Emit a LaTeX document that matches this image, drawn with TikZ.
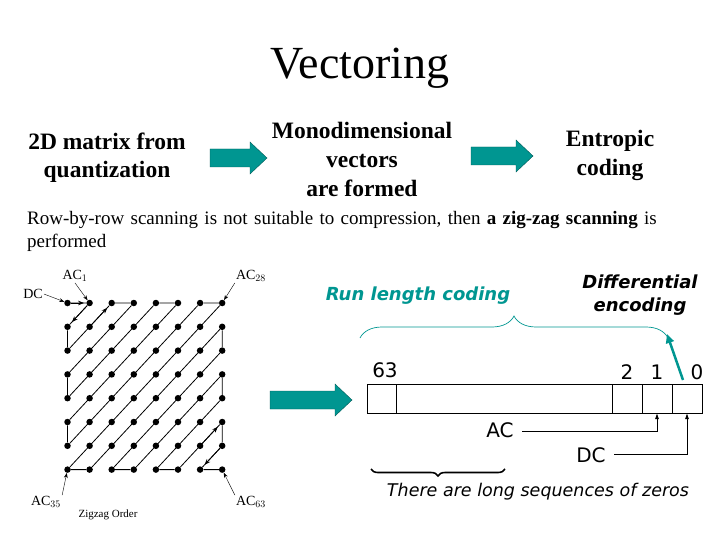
\documentclass[tikz,border=0pt]{standalone}
\usepackage{fontspec}
\setmainfont{Liberation Serif}
\newfontfamily\pfont{DejaVu Sans}
\newfontfamily\lfont{DejaVu Sans}
\usetikzlibrary{decorations.pathreplacing,arrows.meta,calc}
\definecolor{tealc}{RGB}{0,150,145}
\newcommand{\blockarr}[4]{% name, x1, x2, y
  \fill[tealc,draw=tealc!60!black] (#2,#4-9) -- (#3-17,#4-9) -- (#3-17,#4-16) -- (#3,#4) -- (#3-17,#4+16) -- (#3-17,#4+9) -- (#2,#4+9) -- cycle;
  \coordinate (#1) at ({(#2+#3)/2},#4);}
\begin{document}
\begin{tikzpicture}[x=1pt,y=-1pt,
  dot/.style={circle,fill=black,inner sep=0pt,minimum size=6.5pt},
  zz/.style={line width=0.8pt},
  lab/.style={font=\fontsize{14}{14}\selectfont,inner sep=1pt},
  cell/.style={draw,line width=0.6pt},
  conn/.style={line width=0.8pt,-{Latex[length=6pt,width=4pt]}}]
\useasboundingbox (0,0) rectangle (720,540);
\node (title) at (360,68) {\fontsize{46}{46}\selectfont Vectoring};
\node[align=center,font=\bfseries\fontsize{23.5}{28}\selectfont] (t1) at (107,158) {2D matrix from\\quantization};
\node[align=center,font=\bfseries\fontsize{23.5}{29}\selectfont] (t2) at (362,159) {Monodimensional\\vectors\\are formed};
\node[align=center,font=\bfseries\fontsize{23.5}{29}\selectfont] (t3) at (610,155) {Entropic\\coding};
\blockarr{a1}{210}{267}{158}
\blockarr{a2}{471}{533}{156}
\node[anchor=north west,font=\fontsize{19}{23}\selectfont,align=left,text width=680pt,inner sep=0pt] (body) at (27,211) {Row-by-row scanning is not suitable to compression, then \textbf{a zig-zag scanning} is \mbox{performed}};
% zigzag grid
\foreach \i in {0,...,7}{\foreach \j in {0,...,7}{
  \node[dot] (g\i\j) at ({67.5+22.1*\i},{303+23.8*\j}) {};}}
\draw[zz] (g00)--(g10)--(g01)--(g02)--(g20)--(g30)--(g03)--(g04)--(g40)--(g50)--(g05)--(g06)--(g60)--(g70)--(g07)--(g17)--(g71)--(g72)--(g27)--(g37)--(g73)--(g74)--(g47)--(g57)--(g75)--(g76)--(g67)--(g77);
\draw[zz,-{Stealth[length=6pt]}] (g00)--($(g00)!0.75!(g10)$);
\draw[zz,-{Stealth[length=6pt]}] (g10)--($(g10)!0.8!(g01)$);
\draw[zz,-{Stealth[length=6pt]}] (g11)--($(g11)!0.8!(g20)$);
\draw[zz,-{Stealth[length=6pt]}] (g66)--($(g66)!0.8!(g75)$);
\draw[zz,-{Stealth[length=6pt]}] (g76)--($(g76)!0.8!(g67)$);
\node[lab] (dc) at (33,294) {DC};
\node[lab] (ac1) at (75,276) {AC$_1$};
\node[lab] (ac28) at (251,276) {AC$_{28}$};
\node[lab] (ac35) at (46,502) {AC$_{35}$};
\node[lab] (ac63) at (251,502) {AC$_{63}$};
\node[font=\fontsize{11}{11}\selectfont] (zo) at (108,515) {Zigzag Order};
\draw[-{Stealth[length=5pt]}] (dc.east)--(g00);
\draw[-{Stealth[length=5pt]}] (ac1.south)--(g10);
\draw[-{Stealth[length=5pt]}] (ac28.south west)--(g70);
\draw[-{Stealth[length=5pt]}] (ac35.north east)--(g07);
\draw[-{Stealth[length=5pt]}] (ac63.north west)--(g77);
\blockarr{a3}{270}{352}{400}
% right panel
\node[font=\lfont\bfseries\itshape\fontsize{18}{18}\selectfont,text=tealc] (rl) at (418,296) {Run length coding};
\node[align=center,font=\lfont\bfseries\itshape\fontsize{18}{23}\selectfont] (de) at (640,295) {Differential\\encoding};
\draw[tealc,line width=0.7pt,decorate,decoration={brace,amplitude=22pt,aspect=0.5}] (360,338)--(668,338);
\draw[cell] (367,384) rectangle (702,413);
\foreach \x in {396,612,642,672}{\draw[cell] (\x,384)--(\x,413);}
\coordinate (c1) at (657,413);
\coordinate (c0) at (687,413);
\node[font=\pfont\fontsize{20}{20}\selectfont] (n63) at (385,370) {63};
\node[font=\pfont\fontsize{20}{20}\selectfont] (n2) at (627,372) {2};
\node[font=\pfont\fontsize{20}{20}\selectfont] (n1) at (657,372) {1};
\node[font=\pfont\fontsize{20}{20}\selectfont] (n0) at (697,372) {0};
\draw[tealc,line width=2.5pt,-{Triangle[length=9pt,width=8pt]}] (683,380)--(667,334);
\node[font=\pfont\fontsize{20}{20}\selectfont] (ac) at (500,430) {AC};
\node[font=\pfont\fontsize{20}{20}\selectfont] (dcn) at (591,455) {DC};
\draw[conn] ($(ac.east)+(5,1)$) -| (c1);
\draw[conn] ($(dcn.east)+(5,-1)$) -| (c0);
\draw[line width=1.6pt,decorate,decoration={brace,amplitude=7pt,mirror}] (371,469)--(505,469);
\node[font=\pfont\itshape\fontsize{17.5}{17.5}\selectfont] (zeros) at (538,492) {There are long sequences of zeros};
\end{tikzpicture}
\end{document}
